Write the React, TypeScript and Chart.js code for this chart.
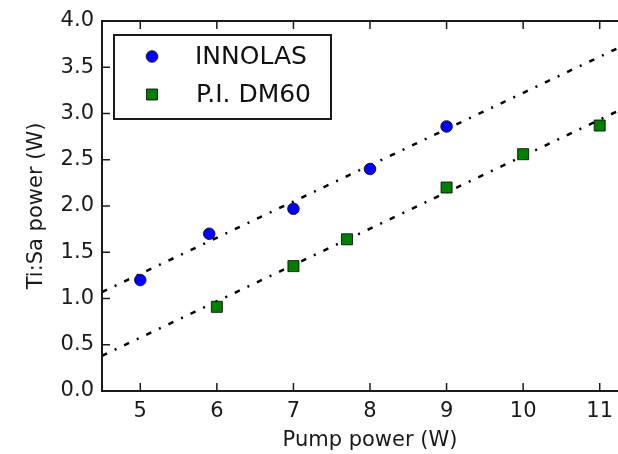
import React, { useEffect, useRef } from 'react';
import { Chart, registerables } from 'chart.js';

Chart.register(...registerables);

const seriesLabels = ['INNOLAS', 'P.I. DM60'];
const innolasX = [5, 5.9, 7, 8, 9];
const innolasY = [1.2, 1.7, 1.97, 2.4, 2.86];
const dm60X = [6, 7, 7.7, 9, 10, 11];
const dm60Y = [0.91, 1.35, 1.64, 2.2, 2.56, 2.87];
const fitX = [4.5, 11.5];
const innolasFitY = [1.07, 3.81];
const dm60FitY = [0.38, 3.13];
const xTicks = [5, 6, 7, 8, 9, 10, 11];
const yTicks = [0, 0.5, 1, 1.5, 2, 2.5, 3, 3.5, 4];

const FONT = "'DejaVu Sans', sans-serif";

const framePlugin = {
  id: 'frame',
  afterDraw(chart: any) {
    const { ctx, chartArea } = chart;
    const { left, right, top, bottom } = chartArea;
    const xs = chart.scales.x;
    const ys = chart.scales.y;
    ctx.save();
    ctx.strokeStyle = '#1a1a1a';
    ctx.lineWidth = 2;
    ctx.strokeRect(left, top, right - left, bottom - top);
    ctx.lineWidth = 1.5;
    const line = (a: number, b: number, c: number, d: number) => {
      ctx.beginPath();
      ctx.moveTo(a, b);
      ctx.lineTo(c, d);
      ctx.stroke();
    };
    for (const v of xTicks) {
      const px = xs.getPixelForValue(v);
      line(px, bottom, px, bottom - 8);
      line(px, top, px, top + 8);
    }
    for (const v of yTicks) {
      const py = ys.getPixelForValue(v);
      line(left, py, left + 8, py);
      line(right, py, right - 8, py);
    }
    // legend
    const bx = 114, by = 35, bw = 217, bh = 84;
    ctx.fillStyle = '#ffffff';
    ctx.fillRect(bx, by, bw, bh);
    ctx.lineWidth = 2;
    ctx.strokeStyle = '#1a1a1a';
    ctx.strokeRect(bx, by, bw, bh);
    const ds = chart.data.datasets;
    ctx.beginPath();
    ctx.arc(152, 56.5, ds[0].pointRadius, 0, Math.PI * 2);
    ctx.fillStyle = ds[0].backgroundColor;
    ctx.fill();
    ctx.lineWidth = ds[0].borderWidth;
    ctx.strokeStyle = ds[0].borderColor;
    ctx.stroke();
    const s = ds[1].pointRadius * Math.SQRT1_2;
    ctx.beginPath();
    ctx.rect(152 - s, 94.5 - s, 2 * s, 2 * s);
    ctx.fillStyle = ds[1].backgroundColor;
    ctx.fill();
    ctx.lineWidth = ds[1].borderWidth;
    ctx.strokeStyle = ds[1].borderColor;
    ctx.stroke();
    ctx.fillStyle = '#111';
    ctx.font = `25px ${FONT}`;
    ctx.textAlign = 'left';
    ctx.textBaseline = 'middle';
    ctx.fillText(ds[0].label, 195, 57);
    ctx.fillText(ds[1].label, 196, 95);
    ctx.restore();
  },
};

export default function App() {
  const ref = useRef<HTMLCanvasElement>(null);
  useEffect(() => {
    const canvas = ref.current!;
    const chart = new Chart(canvas, {
      type: 'scatter',
      data: {
        datasets: [
          {
            label: seriesLabels[0],
            data: innolasX.map((x, i) => ({ x, y: innolasY[i] })),
            pointStyle: 'circle',
            pointRadius: 5.8,
            backgroundColor: '#0000ff',
            borderColor: '#000000',
            borderWidth: 0.8,
            order: 1,
          },
          {
            label: seriesLabels[1],
            data: dm60X.map((x, i) => ({ x, y: dm60Y[i] })),
            pointStyle: 'rect',
            pointRadius: 7.8,
            backgroundColor: '#008000',
            borderColor: '#000000',
            borderWidth: 0.8,
            order: 1,
          },
          {
            label: 'fit INNOLAS',
            data: fitX.map((x, i) => ({ x, y: innolasFitY[i] })),
            showLine: true,
            pointRadius: 0,
            borderColor: '#000000',
            borderWidth: 2.5,
            borderDash: [5.5, 8.5, 2, 8.5],
            fill: false,
            order: 2,
          },
          {
            label: 'fit DM60',
            data: fitX.map((x, i) => ({ x, y: dm60FitY[i] })),
            showLine: true,
            pointRadius: 0,
            borderColor: '#000000',
            borderWidth: 2.5,
            borderDash: [5.5, 8.5, 2, 8.5],
            fill: false,
            order: 2,
          },
        ] as any,
      },
      options: {
        animation: false,
        responsive: false,
        maintainAspectRatio: false,
        layout: { padding: { left: 0, top: 21, right: 10, bottom: 0 } },
        plugins: { legend: { display: false }, tooltip: { enabled: false } },
        scales: {
          x: {
            type: 'linear',
            min: 4.5,
            max: 11.5,
            grid: { display: false, drawTicks: false },
            border: { display: false },
            ticks: {
              padding: 8,
              color: '#1a1a1a',
              font: { family: FONT, size: 21 },
              callback: (v: any) => String(v),
            },
            afterBuildTicks: (s: any) => {
              s.ticks = xTicks.map((v) => ({ value: v }));
            },
            afterFit: (s: any) => {
              s.height = 63;
              s.paddingLeft = 0;
              s.paddingRight = 0;
            },
            title: {
              display: true,
              text: 'Pump power (W)',
              color: '#1a1a1a',
              font: { family: FONT, size: 21 },
              padding: { top: 0, bottom: 1 },
            },
          },
          y: {
            type: 'linear',
            min: 0,
            max: 4,
            grid: { display: false, drawTicks: false },
            border: { display: false },
            ticks: {
              padding: 8,
              color: '#1a1a1a',
              font: { family: FONT, size: 21 },
              callback: (v: any) => Number(v).toFixed(1),
            },
            afterBuildTicks: (s: any) => {
              s.ticks = yTicks.map((v) => ({ value: v }));
            },
            afterFit: (s: any) => {
              s.width = 102;
              s.paddingTop = 0;
              s.paddingBottom = 0;
            },
            title: {
              display: true,
              text: 'Ti:Sa power (W)',
              color: '#1a1a1a',
              font: { family: FONT, size: 21 },
              padding: { top: 24, bottom: 0 },
            },
          },
        },
      } as any,
      plugins: [framePlugin],
    });
    return () => chart.destroy();
  }, []);
  return (
    <div
      style={{
        position: 'fixed',
        left: 0,
        top: 0,
        width: 618,
        height: 454,
        overflow: 'hidden',
        background: '#ffffff',
      }}
    >
      <canvas ref={ref} width={648} height={454} style={{ display: 'block', width: 648, height: 454 }} />
    </div>
  );
}
